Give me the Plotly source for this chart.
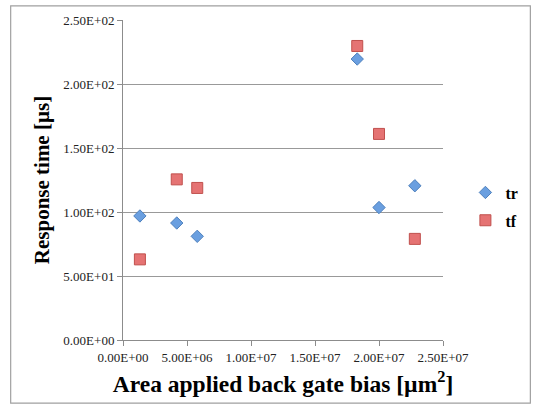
import plotly.graph_objects as go

area = [1.32e6, 4.2e6, 5.8e6, 1.83e7, 2.0e7, 2.28e7]
tr = [96.9, 91.4, 81.0, 219.5, 103.5, 120.5]
tf = [63.0, 125.5, 118.8, 229.7, 161.0, 79.0]
y_ticks = [0, 50, 100, 150, 200, 250]
y_labels = ["0.00E+00", "5.00E+01", "1.00E+02", "1.50E+02", "2.00E+02", "2.50E+02"]
x_ticks = [0, 5e6, 1e7, 1.5e7, 2e7, 2.5e7]
x_labels = ["0.00E+00", "5.00E+06", "1.00E+07", "1.50E+07", "2.00E+07", "2.50E+07"]

serif = "Liberation Serif, Times New Roman, serif"

fig = go.Figure()
fig.add_trace(go.Scatter(
    x=area, y=tr, mode="markers", name="<b>tr</b>", legendgroup="a",
    marker=dict(symbol="diamond", size=9.5, color="#6a9fe0",
                line=dict(color="#4f81bd", width=1)),
))
fig.add_trace(go.Scatter(
    x=area, y=tf, mode="markers", name="<b>tf</b>", legendgroup="b",
    marker=dict(symbol="square", size=11, color="#e57373",
                line=dict(color="#c0504d", width=1)),
))

fig.update_layout(
    width=535, height=405,
    margin=dict(l=123, r=90, t=20, b=65),
    paper_bgcolor="white", plot_bgcolor="white",
    font=dict(family=serif, color="black"),
    showlegend=True,
    legend=dict(x=1.07, y=0.417, xanchor="left", yanchor="middle",
                font=dict(family=serif, size=16, color="black"),
                tracegroupgap=4, itemwidth=30,
                bgcolor="rgba(0,0,0,0)"),
    shapes=[dict(type="rect", xref="paper", yref="paper",
                 x0=-0.351, x1=1.273, y0=-0.197, y1=1.044,
                 line=dict(color="#a0a0a0", width=1.2))],
)
fig.update_xaxes(
    range=[0, 2.5e7], tickvals=x_ticks, ticktext=x_labels,
    showgrid=False, showline=True, linecolor="#8c8c8c", linewidth=1,
    ticks="outside", ticklen=5, tickcolor="#8c8c8c",
    tickfont=dict(family=serif, size=13, color="#222"),
    title=dict(text="<b>Area applied back gate bias [µm<sup>2</sup>]</b>",
               font=dict(family=serif, size=23.5, color="black"), standoff=11),
    zeroline=False,
)
fig.update_yaxes(
    range=[0, 250], tickvals=y_ticks, ticktext=y_labels,
    showgrid=True, gridcolor="#999999", gridwidth=1,
    showline=True, linecolor="#8c8c8c", linewidth=1,
    ticks="outside", ticklen=5, tickcolor="#8c8c8c",
    tickfont=dict(family=serif, size=13, color="#222"),
    title=dict(text="<b>Response time [µs]</b>",
               font=dict(family=serif, size=21, color="black"), standoff=8),
    zeroline=False,
)

fig.write_html("out.html", config={"displayModeBar": False},
               post_script="document.body.style.margin='0';document.body.style.overflow='hidden';")
